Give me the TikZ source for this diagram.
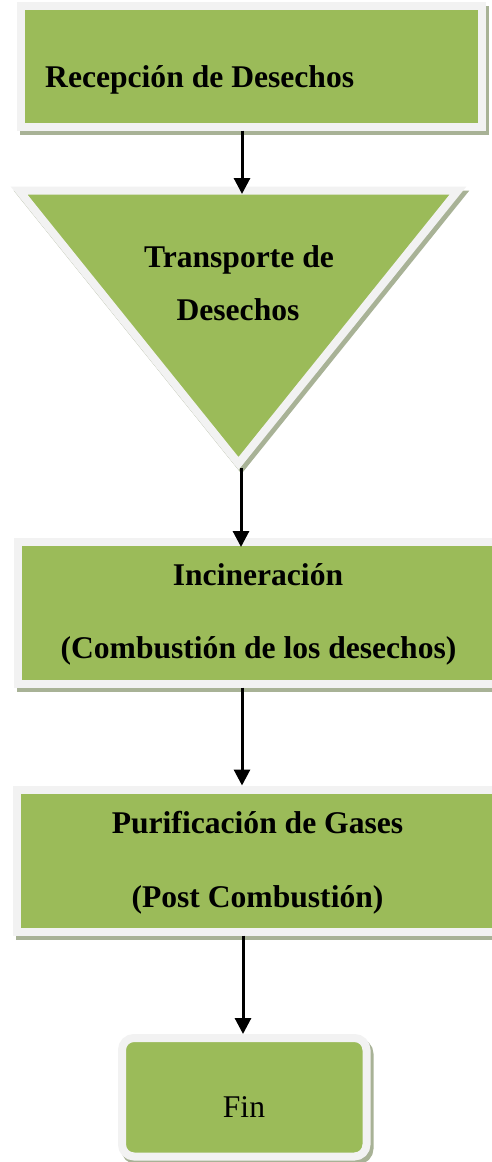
\documentclass[tikz,border=0pt]{standalone}
\usepackage{fontspec}
\setmainfont{Liberation Serif}
\usetikzlibrary{shadows,arrows.meta}
\definecolor{ogreen}{HTML}{9BBB59}
\definecolor{bgray}{HTML}{F2F2F2}
\definecolor{shcol}{RGB}{168,178,150}
\tikzset{
  procbox/.style={rectangle, draw=bgray, fill=ogreen, line width=8pt, inner sep=0pt,
    drop shadow={shadow xshift=3pt, shadow yshift=-4pt, fill=shcol, draw=shcol, line width=8pt, opacity=1}},
  lbl/.style={inner sep=0pt, font=\fontsize{31.6}{38}\selectfont\bfseries},
  lblreg/.style={inner sep=0pt, font=\fontsize{31.6}{38}\selectfont},
  arr/.style={-{Triangle[width=16pt,length=16pt]}, line width=3pt, black},
}
\begin{document}
\begin{tikzpicture}[x=1pt,y=-1pt]
\useasboundingbox (0,0) rectangle (492,1162);
\fill[white] (0,0) rectangle (492,1162);
% box 1
\node[procbox, minimum width=461pt, minimum height=120.5pt] (recep) at (251.5,66.25) {};
\node[lbl, anchor=base west] (recepT) at (45,87) {Recepción de Desechos};
% triangle
\coordinate (triL) at (19,190.5);
\coordinate (triR) at (458,190.5);
\coordinate (triApex) at (238.5,463.4);
\draw[shcol, fill=shcol, line width=8pt, line join=miter] ([shift={(3,4)}]triL) -- ([shift={(3,4)}]triR) -- ([shift={(3,4)}]triApex) -- cycle;
\draw[bgray, fill=ogreen, line width=8pt, line join=miter] (triL) -- (triR) -- (triApex) -- cycle;
\coordinate (triTop) at (242,194);
\coordinate (triBot) at (241,468);
\node[lbl, anchor=base] (tranT1) at (239,267) {Transporte de};
\node[lbl, anchor=base] (tranT2) at (238,320) {Desechos};
% box 2
\node[procbox, minimum width=480pt, minimum height=141.5pt] (incin) at (258,612.75) {};
\node[lbl, anchor=base] (incinT1) at (258,585) {Incineración};
\node[lbl, anchor=base] (incinT2) at (258.5,658) {(Combustión de los desechos)};
% box 3
\node[procbox, minimum width=482pt, minimum height=142pt] (purif) at (258,860.5) {};
\node[lbl, anchor=base] (purifT1) at (257.5,833) {Purificación de Gases};
\node[lbl, anchor=base] (purifT2) at (257.5,907) {(Post Combustión)};
% fin
\node[procbox, rounded corners=12pt, minimum width=244.5pt, minimum height=118.5pt] (fin) at (244.25,1097.25) {};
\node[lblreg, anchor=base] (finT) at (244,1117) {Fin};
% arrows
\draw[arr] ([xshift=-9.5pt]recep.south) -- (triTop);
\draw[arr] (triBot) -- ([xshift=-17pt,yshift=-9pt]incin.north);
\draw[arr] ([xshift=-16pt]incin.south) -- ([xshift=-16pt]purif.north);
\draw[arr] ([xshift=-15pt]purif.south) -- ([xshift=-1.25pt]fin.north);
\end{tikzpicture}
\end{document}
